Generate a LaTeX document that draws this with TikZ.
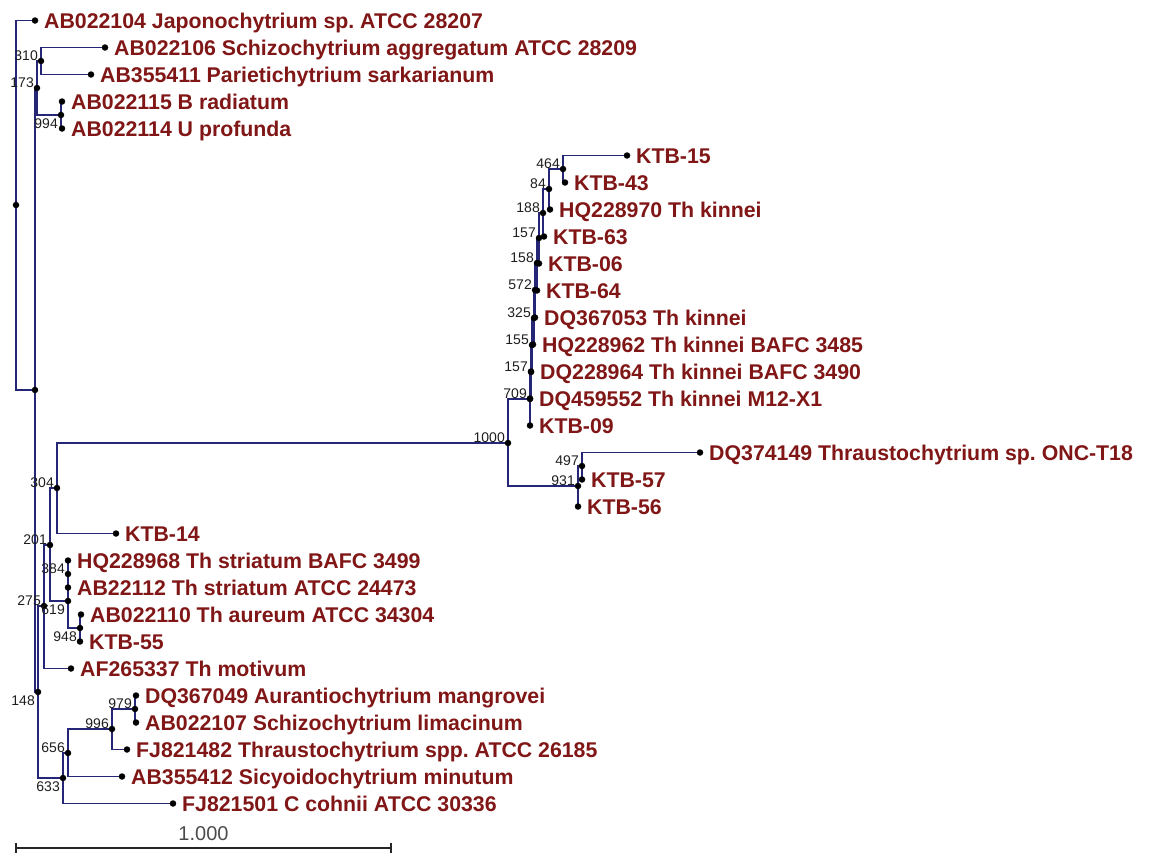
\documentclass[tikz,border=0pt]{standalone}
\usepackage{fontspec}
\setmainfont{Liberation Sans}
\usepackage{tikz}
\usetikzlibrary{positioning}
\definecolor{taxred}{RGB}{128,22,22}
\definecolor{branchblue}{RGB}{38,38,118}
\definecolor{bootgray}{RGB}{30,30,30}
\frenchspacing

\begin{document}
\begin{tikzpicture}[x=1pt,y=-1pt,
  branch/.style={branchblue,line width=1.3pt},
  dot/.style={circle,fill=black,inner sep=0pt,minimum size=6.5pt},
  taxon/.style={anchor=base west,inner sep=0pt,xshift=9pt,yshift=-7.5pt,text=taxred,font=\fontsize{21.3}{21.3}\selectfont\bfseries},
  boot/.style={anchor=base east,inner sep=0pt,xshift=-3pt,yshift=1pt,text=bootgray,font=\fontsize{14}{14}\selectfont},
  bootlow/.style={anchor=north east,inner sep=0pt,xshift=-3pt,yshift=-4pt,text=bootgray,font=\fontsize{14}{14}\selectfont}]
\useasboundingbox (0,0) rectangle (1150,854);
\foreach \n/\x/\y in {root/16/205,x/35/390,n173/37/88,n310/41/61,n994/61/115,n148/38/692,n275/44/606,
  n201/50/545,n304/57/488,n1000/508/443,n709/530/399,n157a/531/372,n155/532/345,n325/534/318,
  n572/535/290,n158/537/263,n157b/539/238,n188/543/213,n84/549/189,n464/563/169,n931/578/486,
  n497/582/466,n619/68/601,n384/68/574,n948/80/628,n633/63/778,n656/68/753,n996/112/729,n979/135/709}
  \coordinate (\n) at (\x,\y);
\foreach \n/\x/\y in {jap/35/20.5,schagg/105/47.5,pari/91/74.5,brad/62/101.5,uprof/62/128.5,
  k15/627/155.5,k43/565/182.5,hq970/550/209.5,k63/544/236.5,k06/539/263.5,k64/537/290.5,
  dq053/535/317.5,hq962/533/344.5,dq964/531/371.5,dq552/530/398.5,k09/530/425.5,dq149/700/452.5,
  k57/582/479.5,k56/578/506.5,k14/116/533.5,hq968/68/560.5,ab112/68/587.5,ab110/81/614.5,
  k55/80/641.5,af337/71/668.5,dq049/136/695.5,ab107/136/722.5,fj482/127/749.5,ab412/122/776.5,
  fj501/173/803.5}
  \coordinate (\n) at (\x,\y);
\foreach \p/\c in {root/jap,root/x,x/n173,x/n148,n173/n310,n173/n994,n310/schagg,n310/pari,
  n994/brad,n994/uprof,n148/n275,n148/n633,n275/n201,n275/af337,n201/n304,n201/n619,
  n304/n1000,n304/k14,n1000/n709,n1000/n931,n709/n157a,n709/k09,n157a/n155,n157a/dq552,
  n155/n325,n155/dq964,n325/n572,n325/hq962,n572/n158,n572/dq053,n158/n157b,n158/k64,
  n157b/n188,n157b/k06,n188/n84,n188/k63,n84/n464,n84/hq970,n464/k15,n464/k43,
  n931/n497,n931/k56,n497/dq149,n497/k57,n619/n384,n619/n948,n384/hq968,n384/ab112,
  n948/ab110,n948/k55,n633/n656,n633/fj501,n656/n996,n656/ab412,n996/n979,n996/fj482,
  n979/dq049,n979/ab107}
  \draw[branch] (\p) |- (\c);
\foreach \n in {root,x}
  \node[dot] (\n-d) at (\n) {};
\foreach \n/\b in {n173/173,n310/310,n275/275,n201/201,n304/304,n1000/1000,n709/709,n157a/157,
  n155/155,n325/325,n572/572,n158/158,n157b/157,n188/188,n84/84,n464/464,n931/931,n497/497,
  n384/384,n656/656,n996/996,n979/979} {
  \node[dot] (\n-d) at (\n) {};
  \node[boot] (\n-b) at (\n) {\b};
}
\foreach \n/\b in {n994/994,n148/148,n619/619,n948/948,n633/633} {
  \node[dot] (\n-d) at (\n) {};
  \node[bootlow] (\n-b) at (\n) {\b};
}
\foreach \n/\t in {jap/AB022104 Japonochytrium sp. ATCC 28207,schagg/AB022106 Schizochytrium aggregatum ATCC 28209,
  pari/AB355411 Parietichytrium sarkarianum,brad/AB022115 B radiatum,uprof/AB022114 U profunda,
  k15/KTB-15,k43/KTB-43,hq970/HQ228970 Th kinnei,k63/KTB-63,k06/KTB-06,k64/KTB-64,
  dq053/DQ367053 Th kinnei,hq962/HQ228962 Th kinnei BAFC 3485,dq964/DQ228964 Th kinnei BAFC 3490,
  dq552/DQ459552 Th kinnei M12-X1,k09/KTB-09,dq149/DQ374149 Thraustochytrium sp. ONC-T18,
  k57/KTB-57,k56/KTB-56,k14/KTB-14,hq968/HQ228968 Th striatum BAFC 3499,ab112/AB22112 Th striatum ATCC 24473,
  ab110/AB022110 Th aureum ATCC 34304,k55/KTB-55,af337/AF265337 Th motivum,
  dq049/DQ367049 Aurantiochytrium mangrovei,ab107/AB022107 Schizochytrium limacinum,
  fj482/FJ821482 Thraustochytrium spp. ATCC 26185,ab412/AB355412 Sicyoidochytrium minutum,
  fj501/FJ821501 C cohnii ATCC 30336} {
  \node[dot] (\n-d) at (\n) {};
  \node[taxon] (\n-t) at (\n) {\t};
}
\coordinate (sbl) at (16,848);
\coordinate (sbr) at (391,848);
\coordinate (sbm) at (203.5,848);
\draw[line width=1.3pt,black!85] (sbl) -- (sbr) (sbl) ++(0,-5) -- ++(0,10) (sbr) ++(0,-5) -- ++(0,10);
\node[above=7pt of sbm,inner sep=0pt,text=bootgray!80,font=\fontsize{20}{20}\selectfont] (sblabel) {1.000};
\end{tikzpicture}
\end{document}
